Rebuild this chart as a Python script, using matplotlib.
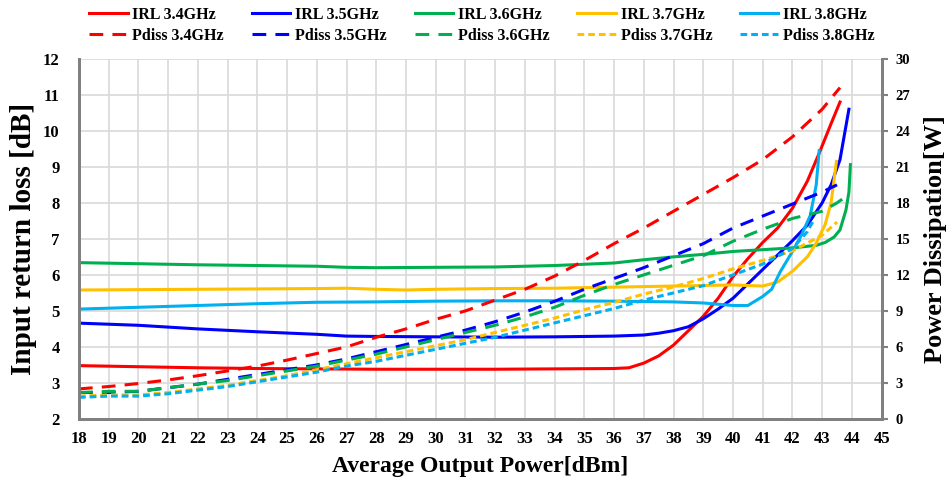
import matplotlib
matplotlib.use("Agg")
import matplotlib.pyplot as plt

plt.rcParams['font.family'] = ['Liberation Serif', 'DejaVu Serif']
plt.rcParams['font.weight'] = 'bold'

# Input return loss [dB] (left axis)
irl_34_x = [18, 20, 22, 24, 26, 28, 30, 32, 34, 36, 36.5, 37, 37.5, 38, 38.5, 39, 39.5, 40, 40.5, 41, 41.5, 42, 42.5, 42.9, 43.3, 43.6]
irl_34_y = [3.48, 3.45, 3.42, 3.40, 3.39, 3.38, 3.38, 3.38, 3.39, 3.40, 3.42, 3.55, 3.75, 4.05, 4.45, 4.85, 5.35, 5.95, 6.45, 6.9, 7.3, 7.85, 8.6, 9.38, 10.2, 10.8]

irl_35_x = [18, 20, 22, 24, 26, 27, 28, 30, 32, 34, 36, 37, 37.5, 38, 38.5, 39, 39.5, 40, 40.5, 41, 41.5, 42, 42.5, 43, 43.3, 43.6, 43.9]
irl_35_y = [4.66, 4.6, 4.5, 4.42, 4.35, 4.3, 4.29, 4.28, 4.27, 4.28, 4.3, 4.33, 4.38, 4.45, 4.56, 4.78, 5.05, 5.35, 5.75, 6.15, 6.55, 6.95, 7.38, 8.0, 8.5, 9.2, 10.6]

irl_36_x = [18, 20, 22, 24, 26, 27, 28, 30, 32, 34, 36, 37, 38, 39, 40, 41, 42, 42.8, 43.1, 43.4, 43.6, 43.8, 43.9, 43.95]
irl_36_y = [6.34, 6.31, 6.28, 6.26, 6.24, 6.21, 6.2, 6.21, 6.22, 6.26, 6.33, 6.42, 6.5, 6.57, 6.65, 6.7, 6.75, 6.82, 6.9, 7.05, 7.25, 7.8, 8.3, 9.06]

irl_37_x = [18, 20, 22, 24, 26, 27, 28, 29, 30, 32, 34, 36, 38, 40, 41, 41.5, 42, 42.5, 42.8, 43.1, 43.3, 43.48]
irl_37_y = [5.58, 5.59, 5.6, 5.61, 5.62, 5.63, 5.6, 5.58, 5.6, 5.62, 5.63, 5.66, 5.69, 5.72, 5.69, 5.8, 6.1, 6.5, 6.88, 7.4, 8.0, 9.15]

irl_38_x = [18, 20, 22, 24, 26, 28, 30, 32, 34, 36, 37, 38, 39, 40, 40.5, 41, 41.3, 41.6, 42, 42.3, 42.6, 42.8, 42.9]
irl_38_y = [5.05, 5.1, 5.15, 5.2, 5.24, 5.25, 5.27, 5.28, 5.28, 5.27, 5.26, 5.25, 5.22, 5.15, 5.15, 5.4, 5.6, 6.1, 6.65, 7.1, 7.65, 8.5, 9.45]

# Power dissipation [W] (right axis)
pd_x = [18, 19, 20, 21, 22, 23, 24, 25, 26, 27, 28, 29, 30, 31, 32, 33, 34, 35, 36, 37, 38, 39, 40, 41, 42]

pd_34_x = pd_x + [43, 43.6]
pd_34_y = [2.5, 2.7, 2.95, 3.25, 3.6, 4.0, 4.4, 4.9, 5.45, 6.0, 6.8, 7.5, 8.3, 9.0, 9.9, 10.8, 11.9, 13.2, 14.6, 15.9, 17.3, 18.7, 20.1, 21.6, 23.5, 25.8, 27.6]

pd_35_x = pd_x + [43, 43.5]
pd_35_y = [2.2, 2.2, 2.3, 2.6, 2.9, 3.3, 3.7, 4.1, 4.5, 5.0, 5.6, 6.2, 6.8, 7.4, 8.1, 8.9, 9.8, 10.8, 11.7, 12.6, 13.6, 14.6, 15.9, 16.9, 17.9, 18.9, 19.5]

pd_36_x = pd_x + [43, 43.5, 43.9]
pd_36_y = [2.2, 2.3, 2.3, 2.6, 2.9, 3.2, 3.6, 4.0, 4.4, 4.9, 5.4, 6.0, 6.6, 7.2, 7.8, 8.5, 9.3, 10.3, 11.2, 12.0, 12.8, 13.6, 14.8, 15.8, 16.7, 17.3, 18.0, 18.7]

pd_37_x = pd_x + [43, 43.5]
pd_37_y = [1.9, 2.0, 2.0, 2.2, 2.5, 2.8, 3.2, 3.6, 4.1, 4.6, 5.1, 5.6, 6.1, 6.6, 7.2, 7.8, 8.4, 9.1, 9.7, 10.4, 11.0, 11.7, 12.5, 13.2, 14.0, 15.3, 16.4]

pd_38_x = pd_x + [42.5, 42.7]
pd_38_y = [1.8, 1.9, 1.9, 2.1, 2.4, 2.7, 3.1, 3.5, 3.9, 4.4, 4.8, 5.3, 5.8, 6.3, 6.8, 7.4, 8.0, 8.6, 9.2, 9.9, 10.5, 11.1, 12.0, 12.9, 14.2, 15.6, 16.5]

freqs = ['3.4GHz', '3.5GHz', '3.6GHz', '3.7GHz', '3.8GHz']
colors = ['#FF0000', '#0000FF', '#00B050', '#FFC000', '#00B0F0']

x_ticks = list(range(18, 46))
left_ticks = list(range(2, 13))
right_ticks = list(range(0, 31, 3))

SPINE = '#808080'
GRID = '#D9D9D9'


def style_axes(ax, ax2):
    ax.set_xlim(18, 45)
    ax.set_ylim(2, 12)
    ax2.set_ylim(0, 30)
    ax.set_xticks(x_ticks)
    ax.set_yticks(left_ticks)
    ax2.set_yticks(right_ticks)
    ax.grid(True, color=GRID, lw=1.2)
    ax.set_axisbelow(True)
    ax.tick_params(axis='x', length=0, labelsize=12, pad=9)
    ax.tick_params(axis='y', length=0, labelsize=12, pad=14)
    ax2.tick_params(axis='y', length=4, width=1.5, color=SPINE, labelsize=10.5, pad=6)
    for a in (ax, ax2):
        a.spines['top'].set_visible(False)
        for s in ('left', 'bottom', 'right'):
            a.spines[s].set_color(SPINE)
            a.spines[s].set_linewidth(2)
    ax.set_xlabel('Average Output Power[dBm]', fontsize=17, fontweight='bold', labelpad=6)
    ax.set_ylabel('Input return loss [dB]', fontsize=21, fontweight='bold', labelpad=4)
    ax2.set_ylabel('Power Dissipation[W]', fontsize=19, fontweight='bold', labelpad=10)


def main():
    fig = plt.figure(figsize=(9.49, 4.86), dpi=100)
    ax = fig.add_axes([0.0832, 0.138, 0.8458, 0.741])
    ax2 = ax.twinx()

    irl = [(irl_34_x, irl_34_y), (irl_35_x, irl_35_y), (irl_36_x, irl_36_y),
           (irl_37_x, irl_37_y), (irl_38_x, irl_38_y)]
    pd = [(pd_34_x, pd_34_y), (pd_35_x, pd_35_y), (pd_36_x, pd_36_y),
          (pd_37_x, pd_37_y), (pd_38_x, pd_38_y)]
    dashes = [(4.5, 3), (4.5, 3), (4.5, 3), (2.2, 1.3), (2.2, 1.3)]

    handles = []
    for i in range(5):
        h1, = ax.plot(irl[i][0], irl[i][1], color=colors[i], lw=2.2,
                      label='IRL ' + freqs[i])
        h2, = ax2.plot(pd[i][0], pd[i][1], color=colors[i], lw=2.2,
                       dashes=dashes[i], label='Pdiss ' + freqs[i])
        handles += [h1, h2]

    style_axes(ax, ax2)

    fig.legend(handles=handles, ncol=5, loc='upper center',
               bbox_to_anchor=(0.508, 1.015), frameon=False,
               prop={'family': 'Liberation Serif', 'weight': 'bold', 'size': 11.5},
               handlelength=2.4, handletextpad=0.3, columnspacing=1.75,
               labelspacing=0.3)

    fig.savefig('out.png', dpi=100)


if __name__ == "__main__":
    main()
